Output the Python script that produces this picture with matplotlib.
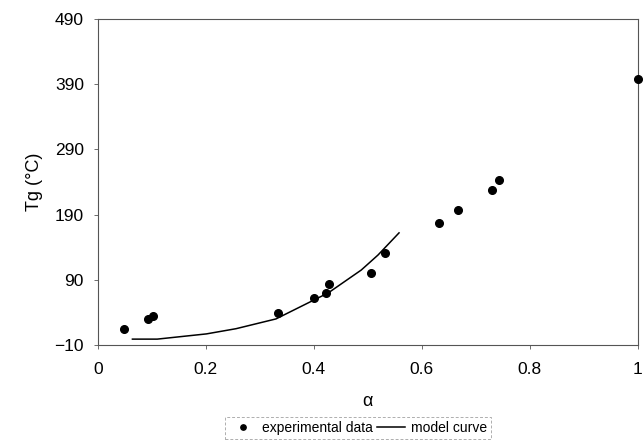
import matplotlib.pyplot as plt

plt.rcParams['font.family'] = ['Liberation Sans', 'DejaVu Sans']

# experimental data
alpha_exp = [0.048, 0.092, 0.103, 0.333, 0.401, 0.422, 0.429, 0.506, 0.532,
             0.632, 0.667, 0.731, 0.744, 1.0]
tg_exp = [15, 30, 35, 39, 62, 70, 84, 100, 131, 177, 197, 228, 243, 398]

# model curve
alpha_model = [0.064, 0.110, 0.201, 0.256, 0.330, 0.427, 0.488, 0.519, 0.558]
tg_model = [-1, -1, 7, 15, 30, 70, 105, 128, 162]

x_ticks = [0, 0.2, 0.4, 0.6, 0.8, 1]
x_tick_labels = ['0', '0.2', '0.4', '0.6', '0.8', '1']
y_ticks = [-10, 90, 190, 290, 390, 490]


def main():
    fig = plt.figure(figsize=(6.44, 4.44), dpi=100)
    ax = fig.add_axes([0.152, 0.223, 0.838, 0.734])

    ax.plot(alpha_exp, tg_exp, 'o', color='black', markersize=5.5,
            label='experimental data', clip_on=False, zorder=3)
    ax.plot(alpha_model, tg_model, '-', color='black', linewidth=1.1,
            label='model curve')

    ax.set_xlim(0, 1)
    ax.set_ylim(-10, 490)
    ax.set_xticks(x_ticks)
    ax.set_xticklabels(x_tick_labels)
    ax.set_yticks(y_ticks)
    ax.tick_params(direction='out', length=3, width=0.6, color='#555555',
                   labelsize=12.5)
    ax.tick_params(axis='x', pad=9)
    ax.tick_params(axis='y', pad=7)

    for side in ['left', 'right', 'top', 'bottom']:
        ax.spines[side].set_linewidth(0.8)
        ax.spines[side].set_color('#555555')
    ax.spines['top'].set_linestyle((0, (4, 1)))
    ax.spines['right'].set_linestyle((0, (4, 1)))

    ax.set_xlabel('α', fontsize=13, labelpad=12)
    ax.set_ylabel('Tg (°C)', fontsize=13, labelpad=8)

    leg = ax.legend(loc='center', bbox_to_anchor=(0.482, -0.255), ncol=2,
                    fontsize=10, frameon=True, fancybox=False,
                    handlelength=2.0, handletextpad=0.4, columnspacing=0.3,
                    borderpad=0.3, markerscale=0.7)
    frame = leg.get_frame()
    frame.set_edgecolor('#999999')
    frame.set_linewidth(0.7)
    frame.set_linestyle((0, (3, 2)))

    fig.savefig('out.png', dpi=100)


if __name__ == '__main__':
    main()
